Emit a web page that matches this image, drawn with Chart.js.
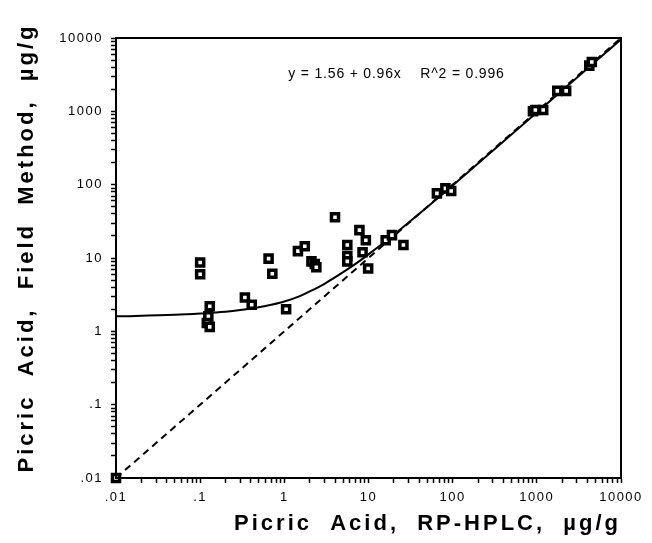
<!DOCTYPE html>
<html>
<head>
<meta charset="utf-8">
<script src="https://cdn.jsdelivr.net/npm/chart.js@4/dist/chart.umd.min.js"></script>
<style>
  html, body { margin: 0; padding: 0; background: #fff; }
  #wrap { width: 652px; height: 543px; }
</style>
</head>
<body>
<div id="wrap"><canvas id="chart"></canvas></div>
<script>
// sample points (RP-HPLC vs field method)
const hplcValues = [0.1, 0.1, 0.13, 0.125, 0.12, 0.13, 0.34, 0.41, 0.65, 0.72,
    1.05, 1.45, 1.75, 2.1, 2.3, 2.4, 4.0, 5.6, 5.6, 5.6,
    7.8, 8.5, 9.3, 9.9, 16, 19, 26, 65, 82, 96,
    900, 960, 1190, 1750, 2230, 4200, 4500, 0.01];
const fieldValues = [8.7, 6.0, 2.2, 1.6, 1.3, 1.15, 2.9, 2.3, 9.8, 6.1,
    2.0, 12.4, 14.5, 9.0, 8.3, 7.5, 36, 15, 10.6, 9.0,
    24, 12, 17.5, 7.2, 17.5, 20.5, 15, 76, 89, 82,
    1000, 1045, 1045, 1900, 1900, 4200, 4700, 0.01];

// regression curve as it appears on the plot
const fitX = [0.01, 0.05, 0.1, 0.2, 0.3, 0.5, 0.7, 1, 1.5, 2, 3, 5, 7, 10, 15, 20, 30, 50, 100, 1000, 10000];
const fitY = [1.6, 1.68, 1.75, 1.85, 1.95, 2.13, 2.3, 2.55, 3.0, 3.5, 4.45, 6.4, 8.3, 11.2, 16, 20.8, 30.4, 49.6, 97.6, 962, 9600];

// 1:1 line
const unityX = [0.01, 10000];
const unityY = [0.01, 10000];

const tickValues = [0.01, 0.1, 1, 10, 100, 1000, 10000];
const tickLabels = ['.01', '.1', '1', '10', '100', '1000', '10000'];

const equationText = 'y = 1.56 + 0.96x    R^2 = 0.996';

function logTicks(scale) {
    const ticks = [];
    tickValues.forEach((d, i) => {
        ticks.push({ value: d, major: true });
        if (i < tickValues.length - 1) {
            for (let k = 2; k <= 9; k++) ticks.push({ value: d * k, major: false });
        }
    });
    scale.ticks = ticks;
}

function tickLabel(val) {
    const i = tickValues.findIndex(t => Math.abs(t - val) / t < 1e-6);
    return i >= 0 ? tickLabels[i] : '';
}

const framePlugin = {
    id: 'frame',
    beforeDraw(chart) {
        const ctx = chart.ctx;
        ctx.letterSpacing = '1.5px';
        // wider spacing for the axis titles only
        Object.values(chart.scales).forEach(scale => {
            if (scale._spaced) return;
            const orig = scale.drawTitle.bind(scale);
            scale.drawTitle = function () {
                ctx.save();
                ctx.letterSpacing = '3px';
                if (scale.axis === 'y') ctx.translate(0, -10);
                orig();
                ctx.restore();
            };
            scale._spaced = true;
        });
    },
    afterDraw(chart) {
        const ctx = chart.ctx;
        const a = chart.chartArea;
        ctx.save();
        ctx.strokeStyle = '#000';
        ctx.lineWidth = 2;
        ctx.strokeRect(a.left, a.top, a.right - a.left, a.bottom - a.top);
        ctx.letterSpacing = '0.8px';
        ctx.fillStyle = '#000';
        ctx.font = '14px "Liberation Sans", Arial, sans-serif';
        ctx.textAlign = 'center';
        ctx.textBaseline = 'middle';
        ctx.fillText(equationText,
            chart.scales.x.getPixelForValue(21.5),
            chart.scales.y.getPixelForValue(3200));
        ctx.restore();
        ctx.letterSpacing = '0px';
    }
};

const titleFont = { family: '"Liberation Sans", Arial, sans-serif', size: 22, weight: 'bold' };
const tickFont = { family: '"Liberation Sans", Arial, sans-serif', size: 13 };

new Chart(document.getElementById('chart'), {
    type: 'scatter',
    data: {
        datasets: [
            {
                label: 'samples',
                data: hplcValues.map((x, i) => ({ x: x, y: fieldValues[i] })),
                pointStyle: 'rect',
                pointRadius: 5,
                backgroundColor: '#fff',
                borderColor: '#000',
                borderWidth: 3.5,
                clip: false
            },
            {
                label: 'fit',
                type: 'line',
                data: fitX.map((x, i) => ({ x: x, y: fitY[i] })),
                borderColor: '#000',
                borderWidth: 2,
                pointRadius: 0,
                cubicInterpolationMode: 'monotone'
            },
            {
                label: 'unity',
                type: 'line',
                data: unityX.map((x, i) => ({ x: x, y: unityY[i] })),
                borderColor: '#000',
                borderWidth: 2,
                borderDash: [7, 5],
                pointRadius: 0
            }
        ]
    },
    options: {
        responsive: true,
        maintainAspectRatio: false,
        animation: false,
        layout: { padding: { left: 14, right: 31, top: 38, bottom: 6 } },
        plugins: { legend: { display: false }, tooltip: { enabled: false } },
        scales: {
            x: {
                type: 'logarithmic',
                min: 0.01,
                max: 10000,
                afterBuildTicks: logTicks,
                afterFit: s => { s.height = 59; },
                border: { color: '#000', width: 2 },
                grid: { drawOnChartArea: false, tickLength: 5, tickColor: '#000', tickWidth: 1.5 },
                ticks: { autoSkip: false, maxRotation: 0, color: '#000', font: tickFont, padding: 7, callback: tickLabel },
                title: { display: true, text: 'Picric  Acid,  RP-HPLC,  µg/g', align: 'end', color: '#000', font: titleFont, padding: 0 }
            },
            y: {
                type: 'logarithmic',
                min: 0.01,
                max: 10000,
                afterBuildTicks: logTicks,
                afterFit: s => { s.width = 102; },
                border: { color: '#000', width: 2 },
                grid: { drawOnChartArea: false, tickLength: 5, tickColor: '#000', tickWidth: 1.5 },
                ticks: { autoSkip: false, color: '#000', font: tickFont, padding: 8, callback: tickLabel },
                title: { display: true, text: 'Picric  Acid,  Field  Method,  µg/g', color: '#000', font: titleFont, padding: 0 }
            }
        }
    },
    plugins: [framePlugin]
});
</script>
</body>
</html>
